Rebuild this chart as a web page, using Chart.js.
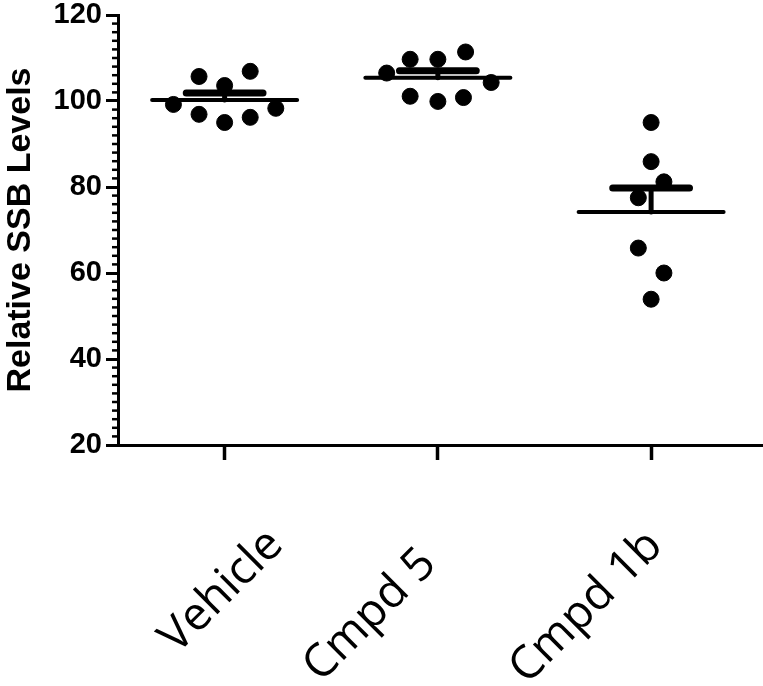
<!DOCTYPE html>
<html>
<head>
<meta charset="utf-8">
<script src="https://cdn.jsdelivr.net/npm/chart.js@4.4.0/dist/chart.umd.min.js"></script>
<style>
  html, body { margin: 0; padding: 0; background: #fff; }
  canvas { display: block; }
</style>
</head>
<body>
<canvas id="chart" width="763" height="686"></canvas>
<script>
// groups on the x axis
const categories = ['Vehicle', 'Cmpd 5', 'Cmpd 1b'];

// individual values
const vehicleValues = [99.2, 105.7, 96.9, 103.6, 95.0, 106.9, 96.2, 98.3];
const cmpd5Values = [106.5, 109.7, 101.1, 109.7, 99.9, 111.4, 100.8, 104.3];
const cmpd1bValues = [95.0, 85.9, 81.2, 77.5, 65.8, 60.0, 53.9];

// horizontal scatter of each dot around its group (category units)
const vehicleJitter = [-0.24, -0.12, -0.12, 0, 0, 0.12, 0.12, 0.24];
const cmpd5Jitter = [-0.24, -0.13, -0.13, 0, 0, 0.13, 0.12, 0.25];
const cmpd1bJitter = [0, 0, 0.06, -0.06, -0.06, 0.06, 0];

const yTicks = [20, 40, 60, 80, 100, 120];

const groupValues = [vehicleValues, cmpd5Values, cmpd1bValues];
const groupJitter = [vehicleJitter, cmpd5Jitter, cmpd1bJitter];

const MEAN_HALF = 0.34;
const CAP_HALF = 0.18;

// the rotated category labels are not placed uniformly in the original figure
const labelNudge = [[51, 8], [-9, 27], [4, 9]];

function mean(a) { return a.reduce((s, v) => s + v, 0) / a.length; }
function sem(a) {
  const m = mean(a);
  const sd = Math.sqrt(a.reduce((s, v) => s + (v - m) * (v - m), 0) / (a.length - 1));
  return sd / Math.sqrt(a.length);
}

const datasets = [];

groupValues.forEach((vals, i) => {
  const m = mean(vals);
  const top = m + sem(vals);
  // mean line
  datasets.push({
    type: 'line',
    data: [{ x: i - MEAN_HALF, y: m }, { x: i + MEAN_HALF, y: m }],
    borderColor: '#000',
    borderWidth: 4,
    pointRadius: 0,
    borderCapStyle: 'round',
  });
  // SEM bar (upper only)
  datasets.push({
    type: 'line',
    data: [{ x: i, y: m }, { x: i, y: top }],
    borderColor: '#000',
    borderWidth: 5,
    pointRadius: 0,
    borderCapStyle: 'round',
  });
  datasets.push({
    type: 'line',
    data: [{ x: i - CAP_HALF, y: top }, { x: i + CAP_HALF, y: top }],
    borderColor: '#000',
    borderWidth: 7,
    pointRadius: 0,
    borderCapStyle: 'round',
  });
  // dots
  datasets.push({
    type: 'scatter',
    data: vals.map((v, k) => ({ x: i + groupJitter[i][k], y: v })),
    backgroundColor: '#000',
    borderColor: '#000',
    pointRadius: 8,
    pointStyle: 'circle',
  });
});

// short minor ticks on the y axis
const minorTicks = {
  id: 'minorTicks',
  afterDraw(chart) {
    const y = chart.scales.y;
    const ctx = chart.ctx;
    const left = chart.chartArea.left;
    ctx.save();
    ctx.strokeStyle = '#000';
    ctx.lineWidth = 2.5;
    for (let v = y.min; v <= y.max; v += 2) {
      if (v % 20 === 0) continue;
      const py = y.getPixelForValue(v);
      ctx.beginPath();
      ctx.moveTo(left - 6, py);
      ctx.lineTo(left, py);
      ctx.stroke();
    }
    ctx.restore();
  }
};

// move each x label a bit, like in the source figure
const nudgeLabels = {
  id: 'nudgeLabels',
  beforeDraw(chart) {
    const items = chart.scales.x.getLabelItems();
    items.forEach((it, i) => {
      if (it._nudged || !labelNudge[i]) return;
      const t = it.options.translation;
      it.options.translation = [t[0] + labelNudge[i][0], t[1] + labelNudge[i][1]];
      it._nudged = true;
    });
  }
};

const ctx = document.getElementById('chart');
new Chart(ctx, {
  data: { datasets },
  plugins: [minorTicks, nudgeLabels],
  options: {
    responsive: false,
    animation: false,
    events: [],
    layout: { autoPadding: false, padding: { top: 15, right: 1, left: 0, bottom: 0 } },
    plugins: {
      legend: { display: false },
      tooltip: { enabled: false },
    },
    scales: {
      x: {
        type: 'linear',
        min: -0.5,
        max: 2.52,
        afterBuildTicks: (scale) => {
          scale.ticks = categories.map((c, i) => ({ value: i }));
        },
        afterFit: (scale) => {
          scale.height = 241;
          scale.paddingLeft = 0;
          scale.paddingRight = 0;
        },
        border: { display: true, color: '#000', width: 3 },
        grid: {
          drawOnChartArea: false,
          drawTicks: true,
          tickLength: 15,
          tickWidth: 3.5,
          tickColor: '#000',
        },
        ticks: {
          autoSkip: false,
          minRotation: 45,
          maxRotation: 45,
          labelOffset: 0,
          padding: 50,
          color: '#000',
          font: { family: 'Open Sans', size: 46 },
          callback: (v) => categories[v],
        },
      },
      y: {
        min: 20,
        max: 120,
        afterBuildTicks: (scale) => {
          scale.ticks = yTicks.map(v => ({ value: v }));
        },
        afterFit: (scale) => {
          scale.width = 118;
          scale.paddingTop = 0;
          scale.paddingBottom = 0;
        },
        border: { display: true, color: '#000', width: 3 },
        grid: {
          drawOnChartArea: false,
          drawTicks: true,
          tickLength: 12,
          tickWidth: 3,
          tickColor: '#000',
        },
        ticks: {
          padding: 4,
          color: '#000',
          font: { family: 'Liberation Sans', size: 29, weight: 'bold' },
        },
        title: {
          display: true,
          text: 'Relative SSB Levels',
          color: '#000',
          padding: 0,
          font: { family: 'Liberation Sans', size: 34, weight: 'bold' },
        },
      },
    },
  },
});
</script>
</body>
</html>
